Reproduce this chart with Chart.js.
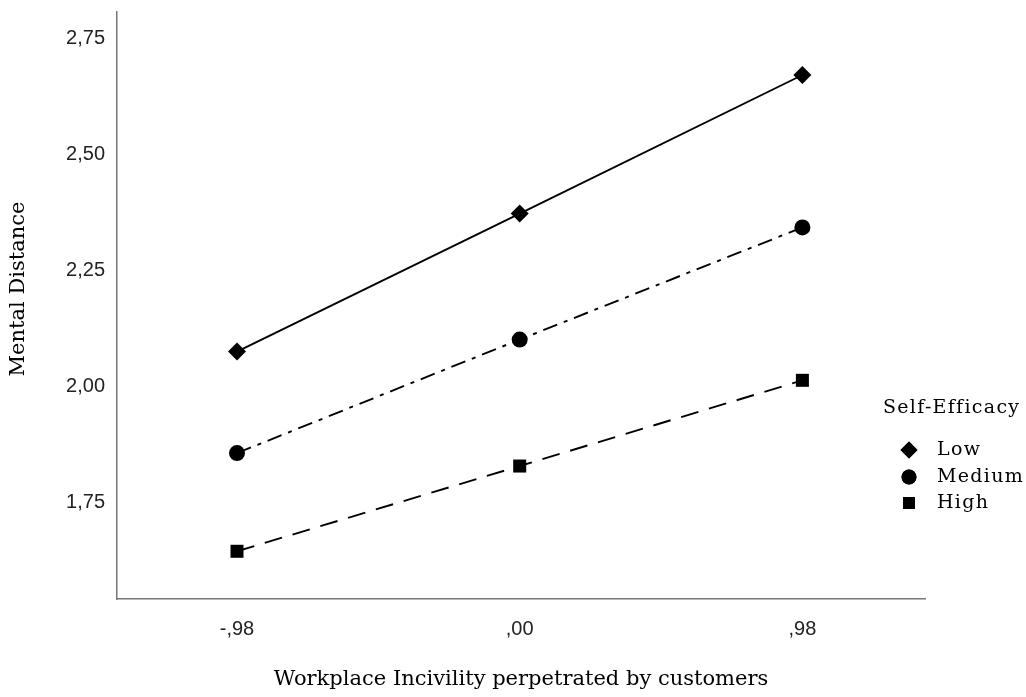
<!DOCTYPE html>
<html>
<head>
<meta charset="utf-8">
<script src="https://cdn.jsdelivr.net/npm/chart.js@4/dist/chart.umd.min.js"></script>
<style>
  html, body { margin: 0; padding: 0; background: #ffffff; }
  #wrap { width: 1026px; height: 697px; }
</style>
</head>
<body>
<div id="wrap"><canvas id="c" width="1026" height="697"></canvas></div>
<script>
// ---- data ----
const xValues = [-0.98, 0.00, 0.98];
const xTickLabels = ['-,98', ',00', ',98'];
const yTickValues = [1.75, 2.00, 2.25, 2.50, 2.75];
const yTickLabels = ['1,75', '2,00', '2,25', '2,50', '2,75'];
const seriesNames = ['Low', 'Medium', 'High'];
const lowValues = [2.075, 2.373, 2.672];
const mediumValues = [1.856, 2.101, 2.343];
const highValues = [1.644, 1.828, 2.013];
const legendTitle = 'Self-Efficacy';
const xTitle = 'Workplace Incivility perpetrated by customers';
const yTitle = 'Mental Distance';

const serif = "'DejaVu Serif', 'Liberation Serif', serif";
const sans = "'Liberation Sans', Arial, sans-serif";

function pts(vals) { return xValues.map((x, i) => ({ x: x, y: vals[i] })); }

const styles = [
  { pointStyle: 'rectRot', radius: 9, dash: [], lr: 8.5 },
  { pointStyle: 'circle', radius: 8, dash: [15, 7, 4, 7], lr: 7.5 },
  { pointStyle: 'rect', radius: 9.2, dash: [18, 11], lr: 8.5 }
];
const allValues = [lowValues, mediumValues, highValues];

const datasets = allValues.map((vals, i) => ({
  label: seriesNames[i],
  data: pts(vals),
  borderColor: '#000',
  backgroundColor: '#000',
  borderWidth: 1.9,
  borderDash: styles[i].dash,
  pointStyle: styles[i].pointStyle,
  pointRadius: styles[i].radius,
  pointHoverRadius: styles[i].radius,
  pointBorderWidth: 0,
  tension: 0,
  fill: false
}));

const textPlugin = {
  id: 'customText',
  afterDraw(chart) {
    const ctx = chart.ctx;
    ctx.save();
    ctx.fillStyle = '#000';
    // y axis title
    ctx.save();
    ctx.font = "21px " + serif;
    ctx.textAlign = 'center';
    ctx.textBaseline = 'middle';
    ctx.translate(19, 289);
    ctx.rotate(-Math.PI / 2);
    ctx.fillText(yTitle, 0, 0);
    ctx.restore();
    // legend
    ctx.font = "19px " + serif;
    try { ctx.letterSpacing = '1.3px'; } catch (e) {}
    ctx.textBaseline = 'middle';
    ctx.textAlign = 'left';
    ctx.fillText(legendTitle, 883, 408);
    const ys = [450, 477, 503];
    seriesNames.forEach((name, i) => {
      Chart.helpers.drawPoint(ctx, {
        pointStyle: styles[i].pointStyle, radius: styles[i].lr, borderWidth: 0, rotation: 0
      }, 909, ys[i]);
      ctx.fillStyle = '#000';
      ctx.fill();
      ctx.fillText(name, 937, ys[i]);
    });
    ctx.restore();
  }
};

new Chart(document.getElementById('c'), {
  type: 'line',
  data: { datasets: datasets },
  plugins: [textPlugin],
  options: {
    responsive: false,
    animation: false,
    events: [],
    layout: { padding: { top: 12, right: 101, left: 0, bottom: 0 } },
    plugins: { legend: { display: false }, tooltip: { enabled: false } },
    scales: {
      x: {
        type: 'linear',
        min: -1.396,
        max: 1.405,
        afterBuildTicks: (s) => { s.ticks = xValues.map(v => ({ value: v })); },
        afterFit: (s) => { s.height = 98; s.paddingLeft = 0; s.paddingRight = 0; },
        grid: { display: false, drawTicks: false },
        border: { display: true, color: '#777', width: 1.5 },
        ticks: {
          padding: 18,
          color: '#222',
          font: { family: sans, size: 20 },
          maxRotation: 0,
          callback: (v) => { const i = xValues.indexOf(v); return i >= 0 ? xTickLabels[i] : ''; }
        },
        title: {
          display: true, text: xTitle, color: '#000',
          font: { family: serif, size: 21 },
          padding: { top: 5, bottom: 5 }
        }
      },
      y: {
        type: 'linear',
        min: 1.541,
        max: 2.808,
        afterBuildTicks: (s) => { s.ticks = yTickValues.map(v => ({ value: v })); },
        afterFit: (s) => { s.width = 117; s.paddingTop = 0; s.paddingBottom = 0; },
        grid: { display: false, drawTicks: false },
        border: { display: true, color: '#777', width: 1.5 },
        ticks: {
          padding: 12,
          color: '#222',
          font: { family: sans, size: 20 },
          callback: (v) => { const i = yTickValues.indexOf(v); return i >= 0 ? yTickLabels[i] : ''; }
        },
        title: { display: false }
      }
    }
  }
});
</script>
</body>
</html>
